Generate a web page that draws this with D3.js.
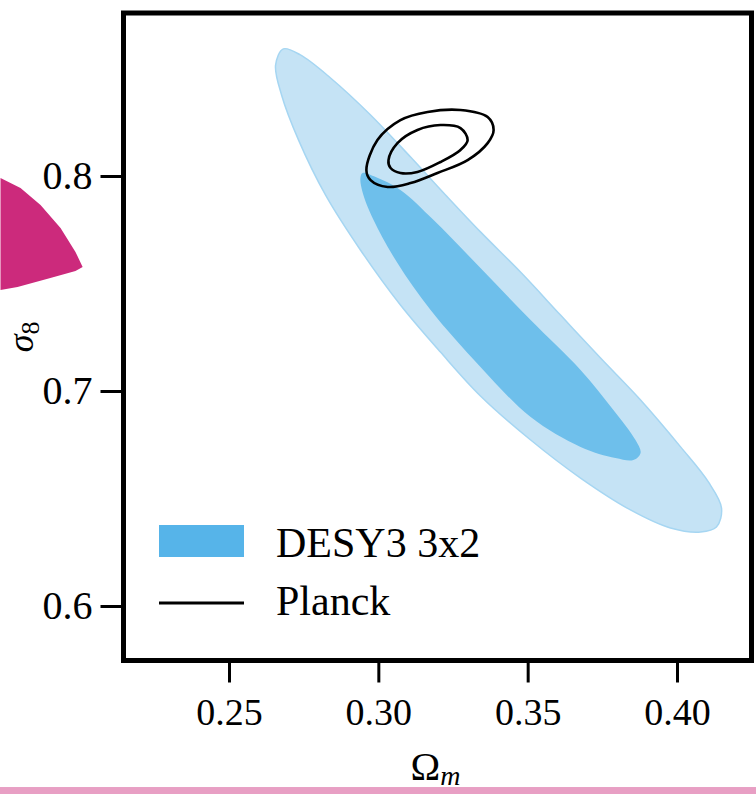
<!DOCTYPE html>
<html>
<head>
<meta charset="utf-8">
<script src="https://cdn.jsdelivr.net/npm/d3@7"></script>
<style>
html,body{margin:0;padding:0;background:#fff;}
svg{display:block;}
text{font-family:"Liberation Serif","Times New Roman",serif;fill:#000;}
</style>
</head>
<body>
<div id="chart"></div>
<script>
// ---- data (Omega_m, sigma_8) ----
const xTicks = [0.25, 0.30, 0.35, 0.40];
const xTickLabels = ["0.25", "0.30", "0.35", "0.40"];
const yTicks = [0.6, 0.7, 0.8];
const yTickLabels = ["0.6", "0.7", "0.8"];
const legendLabels = ["DESY3 3x2", "Planck"];

// DES Y3 3x2pt 2-sigma (outer) contour
const desOuterOm = [0.2682,0.2739,0.2840,0.2974,0.3108,0.3225,0.3342,0.3476,0.3610,0.3744,0.3878,0.4012,0.4105,0.4149,0.4132,0.4079,0.3978,0.3844,0.3677,0.3510,0.3342,0.3208,0.3074,0.2940,0.2823,0.2733,0.2676,0.2656];
const desOuterS8 = [0.8591,0.8563,0.8456,0.8284,0.8088,0.7912,0.7740,0.7553,0.7353,0.7153,0.6958,0.6740,0.6577,0.6456,0.6367,0.6344,0.6363,0.6447,0.6595,0.6772,0.6977,0.7181,0.7400,0.7656,0.7912,0.8167,0.8377,0.8516];
// DES Y3 3x2pt 1-sigma (inner) contour
const desInnerOm = [0.2947,0.2991,0.3074,0.3185,0.3342,0.3510,0.3677,0.3787,0.3861,0.3878,0.3854,0.3794,0.3677,0.3510,0.3342,0.3175,0.3064,0.2984,0.2947,0.2940];
const desInnerS8 = [0.8014,0.7995,0.7935,0.7795,0.7572,0.7330,0.7098,0.6912,0.6772,0.6712,0.6679,0.6688,0.6740,0.6879,0.7112,0.7377,0.7595,0.7795,0.7926,0.7991];
// Planck 2-sigma contour
const planckOuterOm = [0.2960,0.2997,0.3074,0.3165,0.3275,0.3366,0.3386,0.3366,0.3299,0.3198,0.3108,0.3031,0.2974];
const planckOuterS8 = [0.8028,0.8167,0.8260,0.8298,0.8307,0.8274,0.8214,0.8153,0.8074,0.8014,0.7967,0.7949,0.7981];
// Planck 1-sigma contour
const planckInnerOm = [0.3034,0.3064,0.3131,0.3208,0.3275,0.3299,0.3275,0.3208,0.3131,0.3074,0.3041];
const planckInnerS8 = [0.8074,0.8153,0.8214,0.8237,0.8223,0.8167,0.8121,0.8065,0.8019,0.8014,0.8037];
// residue of the neighbouring panel (cropped), in the same units
const neighbourOm = [0.1735,0.1802,0.1869,0.1936,0.1986,0.2010,0.1986,0.1902,0.1792,0.1735];
const neighbourS8 = [0.7991,0.7944,0.7865,0.7758,0.7647,0.7577,0.7558,0.7526,0.7484,0.7470];
const bottomBandS8 = [0.5158, 0.5120];

// ---- layout ----
const W = 756, H = 794;
const frame = {left: 123.5, right: 751.5, top: 13, bottom: 660.5};

const svg = d3.select("#chart").append("svg")
  .attr("width", W).attr("height", H);

const x = d3.scaleLinear().domain([0.21468, 0.42494]).range([frame.left, frame.right]);
const y = d3.scaleLinear().domain([0.87581, 0.57465]).range([frame.top, frame.bottom]);

const zip = (a, b) => a.map((v, i) => [v, b[i]]);
const line = d3.line().x(d => x(d[0])).y(d => y(d[1])).curve(d3.curveCatmullRomClosed.alpha(0.5));

// neighbour residue
svg.append("path")
  .attr("d", d3.line().x(d => x(d[0])).y(d => y(d[1])).curve(d3.curveLinearClosed)(zip(neighbourOm, neighbourS8)))
  .attr("fill", "#cc2a7c");
svg.append("rect")
  .attr("x", 0).attr("width", W)
  .attr("y", y(bottomBandS8[0])).attr("height", y(bottomBandS8[1]) - y(bottomBandS8[0]))
  .attr("fill", "#cc2a7c").attr("opacity", 0.45);

// clip for plot area
svg.append("clipPath").attr("id", "clip").append("rect")
  .attr("x", frame.left).attr("y", frame.top)
  .attr("width", frame.right - frame.left).attr("height", frame.bottom - frame.top);
const plot = svg.append("g").attr("clip-path", "url(#clip)");

plot.append("path")
  .attr("d", line(zip(desOuterOm, desOuterS8)))
  .attr("fill", "#c5e3f5").attr("stroke", "#a6d6f2").attr("stroke-width", 1.5);
plot.append("path")
  .attr("d", line(zip(desInnerOm, desInnerS8)))
  .attr("fill", "#6ebfeb");
plot.append("path")
  .attr("d", line(zip(planckOuterOm, planckOuterS8)))
  .attr("fill", "none").attr("stroke", "#000").attr("stroke-width", 2.6);
plot.append("path")
  .attr("d", line(zip(planckInnerOm, planckInnerS8)))
  .attr("fill", "none").attr("stroke", "#000").attr("stroke-width", 2.6);

// axes
const xAxis = d3.axisBottom(x).tickValues(xTicks).tickFormat((d, i) => xTickLabels[i])
  .tickSize(22).tickPadding(16);
const gx = svg.append("g").attr("transform", `translate(0,${frame.bottom})`).call(xAxis);
const yAxis = d3.axisLeft(y).tickValues(yTicks).tickFormat((d, i) => yTickLabels[i])
  .tickSize(23).tickPadding(8);
const gy = svg.append("g").attr("transform", `translate(${frame.left},0)`).call(yAxis);
[gx, gy].forEach(g => {
  g.select(".domain").remove();
  g.selectAll(".tick line").attr("stroke", "#000").attr("stroke-width", 3);
  g.selectAll(".tick text").attr("font-family", "Liberation Serif, serif").attr("font-size", 38).attr("fill", "#000");
});
gx.selectAll(".tick text").attr("dy", "0.71em");
gy.selectAll(".tick text").attr("font-size", 40);

// frame
svg.append("rect")
  .attr("x", frame.left).attr("y", frame.top)
  .attr("width", frame.right - frame.left).attr("height", frame.bottom - frame.top)
  .attr("fill", "none").attr("stroke", "#000").attr("stroke-width", 5);

// axis labels
const xl = svg.append("text")
  .attr("x", (frame.left + frame.right) / 2 - 2).attr("y", 780)
  .attr("text-anchor", "middle").attr("font-size", 40);
xl.append("tspan").text("Ω");
xl.append("tspan").attr("font-style", "italic").attr("font-size", 28).attr("dy", 5).text("m");

const yl = svg.append("text")
  .attr("transform", `translate(33,${(frame.top + frame.bottom) / 2}) rotate(-90)`)
  .attr("text-anchor", "middle").attr("font-size", 36);
yl.append("tspan").attr("font-style", "italic").text("σ");
yl.append("tspan").attr("font-size", 26).attr("dy", 6).text("8");

// legend
const lg = svg.append("g");
lg.append("rect").attr("x", 159).attr("y", 525).attr("width", 85).attr("height", 32).attr("fill", "#56b4e9");
lg.append("line").attr("x1", 159).attr("x2", 244).attr("y1", 603).attr("y2", 603)
  .attr("stroke", "#000").attr("stroke-width", 3);
lg.append("text").attr("x", 276).attr("y", 557).attr("font-size", 42).text(legendLabels[0]);
lg.append("text").attr("x", 276).attr("y", 615).attr("font-size", 42).text(legendLabels[1]);
</script>
</body>
</html>
